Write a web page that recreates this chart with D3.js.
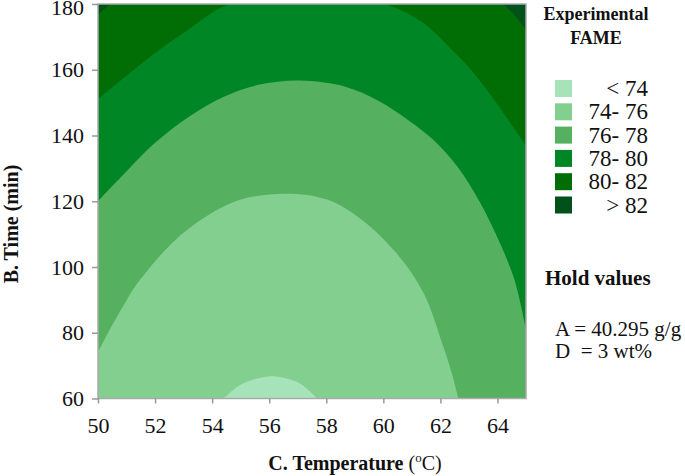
<!DOCTYPE html>
<html><head><meta charset="utf-8">
<script src="https://cdn.jsdelivr.net/npm/d3@7"></script>
<style>
body{margin:0;background:#fff}
svg{display:block}
text{font-family:"Liberation Serif","Times New Roman",serif}
</style>
</head><body>
<svg id="c" width="685" height="476"></svg>
<script>
// ---- data ----
const tempTicks = [50, 52, 54, 56, 58, 60, 62, 64];
const timeTicks = [60, 80, 100, 120, 140, 160, 180];
const legendLabels = ["< 74", "74- 76", "76- 78", "78- 80", "80- 82", "> 82"];
const legendColors = ["#a6e3b9", "#83cf90", "#55b15f", "#008624", "#006e04", "#00521a"];
const holdLines = ["A = 40.295 g/g", "D  = 3 wt%"];

// contour boundaries: [temperature (°C), time (min)]
const edge74 = [[54.39,60],[54.74,62.6],[54.98,64.1],[55.44,65.8],[56.09,66.8],[56.61,66.1],[57.08,64.6],[57.43,62.1],[57.67,60]];
const edge76 = [[50,74.2],[50.54,83.0],[51.01,90.0],[51.39,95.1],[52.60,107.3],[53.80,115.4],[55.01,120.5],[56.58,122.3],[58.03,120.5],[59.24,114.4],[60.45,104.3],[61.41,92.1],[62.10,75.8],[62.40,67.7],[62.63,60]];
const edge78 = [[50,120.0],[50.79,127.2],[51.99,137.7],[53.2,145.8],[54.41,151.8],[55.62,155.4],[57.07,156.7],[58.64,154.9],[59.84,150.5],[60.9,144.5],[61.75,138.7],[62.6,130.5],[63.4,119.5],[64.1,107],[64.6,96],[65,81]];
const edge80 = [[50,151.1],[50.9,157.5],[52.06,165.5],[53.0,171.2],[54.63,180],[57.3,181.5],[60.0,180],[61.3,174.8],[62.4,166.1],[62.92,161.5],[63.45,155.9],[63.97,149.8],[64.62,141.7],[65,137]];
const edge82Left = [[50,176.7],[50.42,180]];
const edge82Right = [[64.21,180],[64.6,176.6],[65,172.1]];

// ---- drawing ----
const svg = d3.select("#c");
const x = d3.scaleLinear().domain([50, 65]).range([98, 526]);
const y = d3.scaleLinear().domain([60, 180]).range([398.5, 4]);

const smooth = d3.line().x(d => x(d[0])).y(d => y(d[1])).curve(d3.curveCatmullRom.alpha(0.5));
const straight = d3.line().x(d => x(d[0])).y(d => y(d[1]));
function region(edge, corners) {
  let d = smooth(edge);
  if (corners.length) d += straight(corners).replace(/^M/, "L");
  return d + "Z";
}

svg.append("defs").append("clipPath").attr("id", "plot")
  .append("rect").attr("x", x(50)).attr("y", y(180))
  .attr("width", x(65) - x(50)).attr("height", y(60) - y(180));

const g = svg.append("g").attr("clip-path", "url(#plot)");
g.append("rect").attr("x", x(50)).attr("y", y(180))
  .attr("width", x(65) - x(50)).attr("height", y(60) - y(180))
  .attr("fill", legendColors[4]);
g.append("path").attr("d", region(edge82Left, [[50, 180]])).attr("fill", legendColors[5]);
g.append("path").attr("d", region(edge82Right, [[65, 180]])).attr("fill", legendColors[5]);
g.append("path").attr("d", region(edge80, [[65, 60], [50, 60]])).attr("fill", legendColors[3]);
g.append("path").attr("d", region(edge78, [[65, 60], [50, 60]])).attr("fill", legendColors[2]);
g.append("path").attr("d", region(edge76, [[50, 60]])).attr("fill", legendColors[1]);
g.append("path").attr("d", region(edge74, [])).attr("fill", legendColors[0]);

// frame
svg.append("rect").attr("x", x(50)).attr("y", y(180))
  .attr("width", x(65) - x(50)).attr("height", y(60) - y(180))
  .attr("fill", "none").attr("stroke", "#aaa").attr("stroke-width", 1.5);

// axes
const serif = "'Liberation Serif','Times New Roman',serif";
const ax = svg.append("g").attr("transform", `translate(0,${y(60)})`)
  .call(d3.axisBottom(x).tickValues(tempTicks).tickSize(5).tickFormat(d3.format("d")))
  .attr("font-family", serif).attr("font-size", 22);
ax.select(".domain").remove();
ax.selectAll("line").attr("stroke", "#999").attr("stroke-width", 1.5);
ax.selectAll("text").attr("y", 34.5).attr("dy", 0).attr("fill", "#111");

const ay = svg.append("g").attr("transform", `translate(${x(50)},0)`)
  .call(d3.axisLeft(y).tickValues(timeTicks).tickSize(6).tickPadding(8).tickFormat(d3.format("d")))
  .attr("font-family", serif).attr("font-size", 22);
ay.select(".domain").remove();
ay.selectAll("line").attr("stroke", "#999").attr("stroke-width", 1.5);
ay.selectAll("text").attr("fill", "#111")
  .attr("dy", d => d === 180 ? "0.48em" : "0.32em");

// axis titles
const xt = svg.append("text").attr("x", 355).attr("y", 470).attr("text-anchor", "middle")
  .attr("font-size", 20).attr("fill", "#111");
xt.append("tspan").attr("font-weight", "bold").text("C. Temperature ");
xt.append("tspan").text("(");
xt.append("tspan").attr("font-size", 13).attr("dy", -8).text("o");
xt.append("tspan").attr("dy", 8).text("C)");

svg.append("text").attr("transform", "translate(18,224) rotate(-90)")
  .attr("text-anchor", "middle").attr("font-size", 20).attr("font-weight", "bold")
  .attr("fill", "#111").text("B. Time (min)");

// legend
svg.append("text").attr("x", 596).attr("y", 20).attr("text-anchor", "middle")
  .attr("font-size", 18).attr("font-weight", "bold").attr("fill", "#111").text("Experimental");
svg.append("text").attr("x", 596).attr("y", 44).attr("text-anchor", "middle")
  .attr("font-size", 18).attr("font-weight", "bold").attr("fill", "#111").text("FAME");

const lg = svg.append("g");
legendLabels.forEach((lab, i) => {
  lg.append("rect").attr("x", 555).attr("y", 80 + i * 23.3).attr("width", 17).attr("height", 17)
    .attr("fill", legendColors[i]);
  lg.append("text").attr("x", 648).attr("y", 96 + i * 23.3).attr("text-anchor", "end")
    .attr("font-size", 23).attr("fill", "#111").text(lab);
});

// hold values
svg.append("text").attr("x", 545).attr("y", 285).attr("font-size", 21)
  .attr("font-weight", "bold").attr("fill", "#111").text("Hold values");
holdLines.forEach((t, i) => {
  svg.append("text").attr("x", 555).attr("y", 336 + i * 22).attr("font-size", 21)
    .attr("fill", "#111").attr("xml:space", "preserve").style("white-space", "pre").text(t);
});
</script>
</body></html>
